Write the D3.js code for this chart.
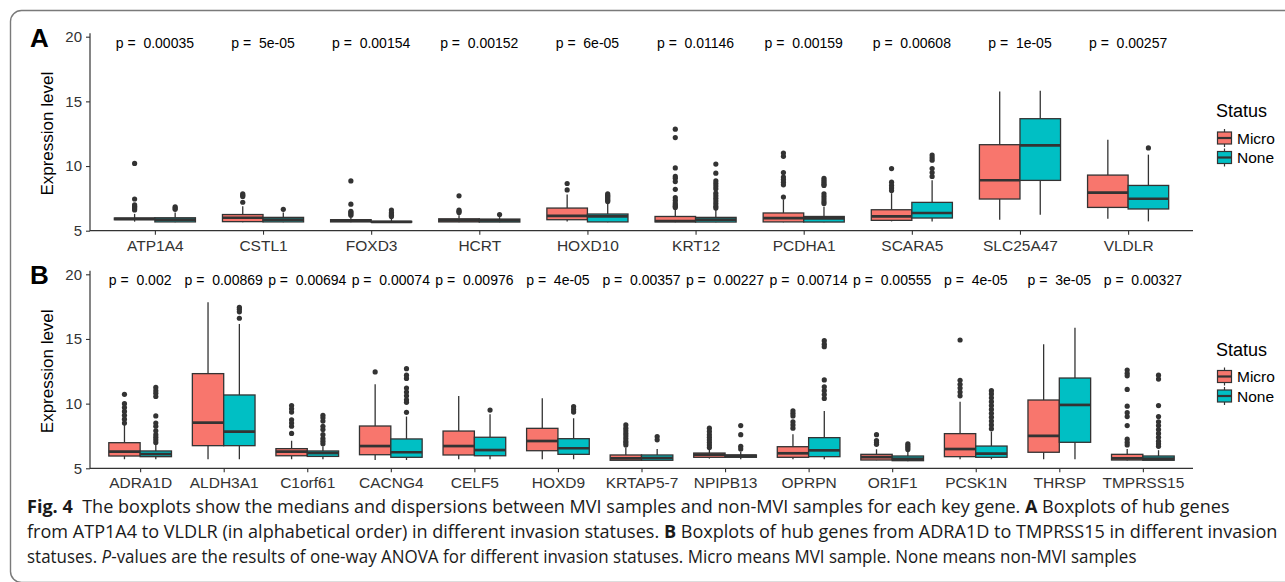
<!DOCTYPE html>
<html><head><meta charset="utf-8">
<script src="https://cdn.jsdelivr.net/npm/d3@7"></script>
<style>body{margin:0;background:#fff} svg{display:block}</style>
</head><body><svg id="c" width="1285" height="582"></svg>
<script>
// ---------- DATA ----------
const statusNames = ["Micro", "None"];
const yTicks = [5, 10, 15, 20];

const genesA = ["ATP1A4","CSTL1","FOXD3","HCRT","HOXD10","KRT12","PCDHA1","SCARA5","SLC25A47","VLDLR"];
const pA = ["0.00035","5e-05","0.00154","0.00152","6e-05","0.01146","0.00159","0.00608","1e-05","0.00257"];
// [lower whisker, Q1, median, Q3, upper whisker]
const microA = [
  [5.7,5.85,5.92,5.98,6.3],[5.65,5.7,6.0,6.25,6.9],[5.65,5.68,5.78,5.85,6.1],[5.65,5.68,5.8,5.92,6.2],
  [5.72,5.85,6.15,6.75,7.8],[5.65,5.68,5.75,6.1,6.65],[5.65,5.68,5.98,6.37,7.4],[5.72,5.8,6.1,6.62,7.9],
  [5.85,7.45,8.9,11.65,15.77],[5.93,6.8,7.94,9.3,12.04]];
const microOutA = [
  [10.2,7.45,7.0,6.9,6.8,6.7,6.6],[7.85,7.75,7.65,7.2],[8.85,7.05,6.5,6.4,6.3,6.2],[7.7,6.6,6.5,6.4],
  [8.65,8.15],[12.85,12.2,9.85,9.2,9.05,8.8,8.2,7.55,7.35,7.15,7.0,6.9,6.8],
  [11.0,10.75,9.5,9.15,8.95,8.75,8.55,7.6],[9.8,8.75,8.5,8.3,8.1],[],[]];
const noneA = [
  [5.65,5.68,5.85,6.0,6.4],[5.65,5.68,5.85,6.03,6.4],[5.65,5.66,5.68,5.72,6.0],[5.65,5.67,5.8,5.9,6.05],
  [5.65,5.68,6.1,6.29,7.1],[5.65,5.67,5.85,6.03,6.6],[5.65,5.67,5.95,6.1,6.85],[5.72,5.98,6.37,7.19,8.9],
  [6.24,8.89,11.6,13.66,15.83],[5.72,6.68,7.47,8.5,10.88]];
const noneOutA = [
  [6.85,6.75,6.65],[6.65],[6.6,6.4,6.3,6.2,6.1],[6.25],[7.85,7.75,7.65,7.55,7.45,7.35,7.25],
  [10.15,9.45,8.85,8.65,8.45,8.25,7.9,7.7,7.5,7.3,7.1,6.9,6.75],
  [9.05,8.9,8.75,8.6,8.5,7.85,7.65,7.45,7.25,7.1],[10.85,10.65,10.45,9.8,9.5,9.2],[],[11.4]];

const genesB = ["ADRA1D","ALDH3A1","C1orf61","CACNG4","CELF5","HOXD9","KRTAP5-7","NPIPB13","OPRPN","OR1F1","PCSK1N","THRSP","TMPRSS15"];
const pB = ["0.002","0.00869","0.00694","0.00074","0.00976","4e-05","0.00357","0.00227","0.00714","0.00555","4e-05","3e-05","0.00327"];
const microB = [
  [5.7,5.95,6.29,6.98,8.35],[5.7,6.75,8.53,12.32,17.84],[5.7,5.97,6.29,6.52,7.13],[5.64,6.05,6.72,8.27,11.5],
  [5.7,6.03,6.72,7.88,10.59],[5.7,6.36,7.11,8.09,10.41],[5.6,5.62,5.77,6.03,6.6],[5.75,5.85,6.05,6.18,6.45],
  [5.7,5.85,6.16,6.67,7.63],[5.62,5.64,5.87,6.08,6.47],[5.7,5.9,6.49,7.68,10.15],[5.7,6.24,7.5,10.28,14.59],
  [5.6,5.64,5.77,6.08,6.5]];
const microOutB = [
  [10.72,10.0,9.7,9.4,9.1,8.8,8.5],[],[9.85,9.6,9.35,8.75,8.5,8.25,7.7],[12.45],[],[],
  [8.35,8.1,7.9,7.7,7.5,7.3,7.1,6.95,6.8],[8.1,7.85,7.6,7.4,7.2,7.0,6.8,6.6],[9.45,9.25,9.05,8.6,8.35,8.1],
  [7.6,7.15,7.0,6.85],[14.92,11.8,11.5,11.2,10.9,10.6],[],[12.6,12.35,12.15,11.1,9.8,9.3,9.0,8.3,7.25,7.0,6.8]];
const noneB = [
  [5.7,5.9,6.1,6.34,6.9],[5.7,6.75,7.83,10.67,16.16],[5.7,5.92,6.18,6.34,6.7],[5.64,5.85,6.24,7.27,9.0],
  [5.7,5.97,6.41,7.4,9.17],[5.7,6.08,6.55,7.29,8.87],[5.6,5.62,5.8,6.03,6.5],[5.7,5.85,5.97,6.03,6.3],
  [5.7,5.9,6.39,7.37,9.43],[5.55,5.59,5.74,5.95,6.3],[5.7,5.85,6.13,6.72,7.83],[5.7,7.01,9.9,11.98,15.87],
  [5.6,5.62,5.75,5.95,6.4]];
const noneOutB = [
  [11.25,11.0,10.8,10.55,9.05,8.5,8.25,7.9,7.6,7.4,7.2,7.0],[17.45,17.3,17.1,16.6],[9.1,8.9,8.65,8.25,8.0,7.6,7.3,7.1,6.9],
  [12.7,12.2,11.95,11.2,10.9,10.6,10.3,10.1,9.33],[9.5],[9.77,9.55,9.35],[7.45,7.2],[8.3,7.6,6.7,6.5],
  [14.87,14.6,14.4,11.83,11.3,11.0,10.7,10.4],[6.9,6.75,6.6,6.45],
  [11.0,10.75,10.45,10.15,9.85,9.55,9.25,8.95,8.65,8.35,8.05],[],[12.2,11.9,9.85,9.0,8.6,8.3,8.0,7.7,7.4,7.1,6.9,6.7]];

const captionLines = [
  [["Fig. 4","b"],["  The boxplots show the medians and dispersions between MVI samples and non-MVI samples for each key gene. ",""],["A","b"],[" Boxplots of hub genes",""]],
  [["from ATP1A4 to VLDLR (in alphabetical order) in different invasion statuses. ",""],["B","b"],[" Boxplots of hub genes from ADRA1D to TMPRSS15 in different invasion",""]],
  [["statuses. ",""],["P","i"],["-values are the results of one-way ANOVA for different invasion statuses. Micro means MVI sample. None means non-MVI samples",""]]
];

// ---------- DRAW ----------
const svg = d3.select("#c");
const FONT = "'Liberation Sans', Arial, sans-serif";
const colors = d3.scaleOrdinal().domain(statusNames).range(["#F8766D", "#00BFC4"]);
const INK = "#333333";

// outer frame
svg.append("rect").attr("x", 10.5).attr("y", 10.5).attr("width", 1320).attr("height", 572)
  .attr("rx", 11).attr("fill", "none").attr("stroke", "#7a7a7a").attr("stroke-width", 1.4);

function panel(genes, pvals, micro, microOut, none, noneOut, yTop, letter, legY) {
  const g = svg.append("g");
  const y = d3.scaleLinear().domain([5, 20]).range([yTop + 194, yTop]);
  const x = d3.scalePoint().domain(genes).range([90, 1193]).padding(0.6);
  const step = x.step(), bw = step * 0.375;

  // axes
  const yAxis = d3.axisLeft(y).tickValues(yTicks).tickSize(4).tickPadding(4).tickSizeOuter(0);
  const ya = g.append("g").attr("transform", "translate(90,0)").call(yAxis);
  ya.select(".domain").remove();
  g.append("line").attr("x1", 90).attr("x2", 90).attr("y1", y(20.27)).attr("y2", y(4.97))
    .attr("stroke", INK).attr("stroke-width", 1.2);
  const xAxis = d3.axisBottom(x).tickSize(4).tickPadding(5).tickSizeOuter(0);
  const xa = g.append("g").attr("transform", `translate(0,${y(5)})`).call(xAxis);
  xa.select(".domain").remove();
  g.append("line").attr("x1", 90).attr("x2", 1193).attr("y1", y(5)).attr("y2", y(5))
    .attr("stroke", INK).attr("stroke-width", 1.2);
  [ya, xa].forEach(a => {
    a.selectAll("line").attr("stroke", INK).attr("stroke-width", 1.1);
    a.selectAll("text").attr("font-family", FONT).attr("font-size", 15).attr("fill", "#333");
  });
  xa.selectAll("text").attr("font-size", 15.5);

  // boxes
  const series = [["Micro", micro, microOut, -1], ["None", none, noneOut, 1]];
  series.forEach(([name, stats, outs, side]) => {
    genes.forEach((gene, i) => {
      const [lo, q1, med, q3, hi] = stats[i];
      const cx = x(gene) + side * bw / 2;
      const bg = g.append("g");
      bg.append("line").attr("x1", cx).attr("x2", cx).attr("y1", y(hi)).attr("y2", y(q3))
        .attr("stroke", INK).attr("stroke-width", 1.3);
      bg.append("line").attr("x1", cx).attr("x2", cx).attr("y1", y(q1)).attr("y2", y(lo))
        .attr("stroke", INK).attr("stroke-width", 1.3);
      bg.append("rect").attr("x", cx - bw / 2).attr("y", y(q3)).attr("width", bw)
        .attr("height", Math.max(0.5, y(q1) - y(q3)))
        .attr("fill", colors(name)).attr("stroke", INK).attr("stroke-width", 1.3);
      bg.append("line").attr("x1", cx - bw / 2).attr("x2", cx + bw / 2).attr("y1", y(med)).attr("y2", y(med))
        .attr("stroke", INK).attr("stroke-width", 2.7);
      bg.selectAll("circle").data(outs[i]).join("circle")
        .attr("cx", cx).attr("cy", d => y(d)).attr("r", 2.6).attr("fill", INK);
    });
  });

  // p-values
  g.selectAll("text.p").data(genes).join("text").attr("class", "p")
    .attr("x", d => x(d)).attr("y", y(20) + 11).attr("text-anchor", "middle")
    .attr("font-family", FONT).attr("font-size", 14).attr("fill", "#000")
    .style("white-space", "pre")
    .text((d, i) => "p =  " + pvals[i]);

  // axis title
  g.append("text").attr("transform", `translate(53,${y(12.5)}) rotate(-90)`)
    .attr("text-anchor", "middle").attr("font-family", FONT).attr("font-size", 17)
    .attr("fill", "#000").text("Expression level");

  // panel letter
  g.append("text").attr("x", 30).attr("y", yTop + 10).attr("font-family", FONT)
    .attr("font-weight", "bold").attr("font-size", 26).attr("fill", "#000").text(letter);

  // legend
  const lg = g.append("g").attr("transform", `translate(1216,${legY})`);
  lg.append("text").attr("x", 0).attr("y", 0).attr("font-family", FONT).attr("font-size", 18)
    .attr("fill", "#000").text("Status");
  statusNames.forEach((s, k) => {
    const cy = 21 + k * 19.5;
    const kx = 8.5;
    lg.append("line").attr("x1", kx).attr("x2", kx).attr("y1", cy - 9).attr("y2", cy + 9)
      .attr("stroke", INK).attr("stroke-width", 1.2);
    lg.append("rect").attr("x", 1.5).attr("y", cy - 6).attr("width", 14).attr("height", 12)
      .attr("fill", colors(s)).attr("stroke", INK).attr("stroke-width", 1.2);
    lg.append("line").attr("x1", 1.5).attr("x2", 15.5).attr("y1", cy).attr("y2", cy)
      .attr("stroke", INK).attr("stroke-width", 2.2);
    lg.append("text").attr("x", 21).attr("y", cy + 5.5).attr("font-family", FONT)
      .attr("font-size", 15.5).attr("fill", "#000").text(s);
  });
}

panel(genesA, pA, microA, microOutA, noneA, noneOutA, 36.7, "A", 117);
panel(genesB, pB, microB, microOutB, noneB, noneOutB, 274.3, "B", 355.5);

// caption
const CAP = "'Open Sans', 'Noto Sans', sans-serif";
const capBase = [512.5, 537.5, 562.5];
const capWidth = [1204, 1251, 1110];
captionLines.forEach((parts, li) => {
  const t = svg.append("text").attr("x", 0).attr("y", 0).attr("font-family", CAP)
    .attr("font-size", 18).attr("fill", "#1a1a1a").style("white-space", "pre");
  parts.forEach(([s, st]) => {
    const sp = t.append("tspan").text(s);
    if (st === "b") sp.attr("font-weight", "bold");
    if (st === "i") sp.attr("font-style", "italic");
  });
  const w = t.node().getComputedTextLength();
  t.attr("transform", `translate(27,${capBase[li]}) scale(${capWidth[li] / w},1)`);
});
</script></body></html>
